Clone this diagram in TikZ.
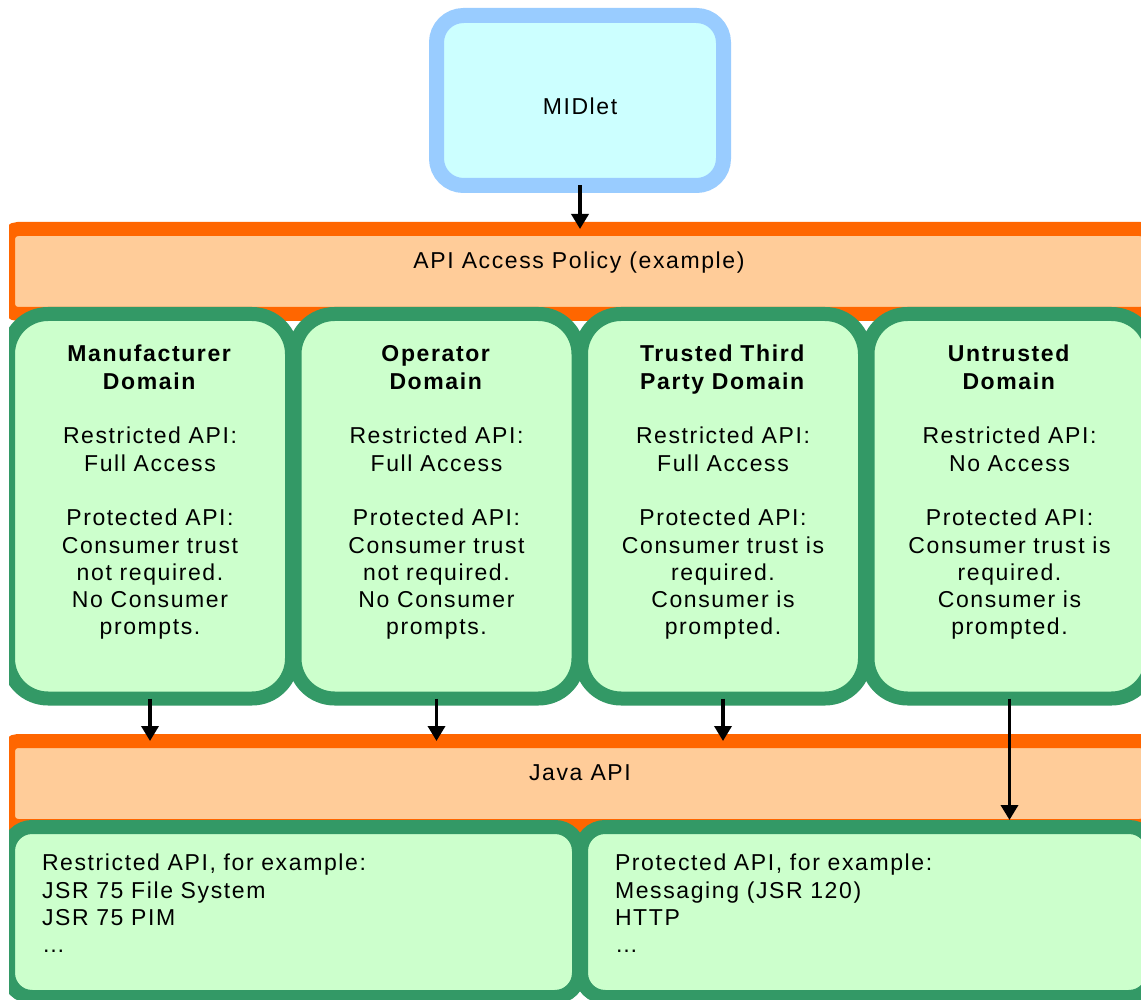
\documentclass[tikz,border=0pt]{standalone}
\usepackage{fontspec}
\setmainfont[LetterSpace=7]{Liberation Sans}
\usetikzlibrary{arrows.meta}
\definecolor{midborder}{HTML}{99CCFF}
\definecolor{midfill}{HTML}{CCFFFF}
\definecolor{orborder}{HTML}{FF6600}
\definecolor{orfill}{HTML}{FFCC99}
\definecolor{grborder}{HTML}{339966}
\definecolor{grfill}{HTML}{CCFFCC}
\begin{document}
\begin{tikzpicture}[x=1pt,y=-1pt,
  every node/.style={font=\fontsize{23}{27.3}\selectfont, inner sep=0pt, outer sep=0pt},
  box/.style={rectangle, inner sep=0pt, outer sep=0pt},
  midbox/.style={box, draw=midborder, fill=midfill, line width=15pt, rounded corners=27pt, minimum width=287pt, minimum height=170pt},
  bandbox/.style={box, draw=orborder, fill=orfill, line width=14pt, rounded corners=10pt, minimum width=1142pt, minimum height=85pt},
  dombox/.style={box, draw=grborder, fill=grfill, line width=14pt, rounded corners=40pt, minimum width=284pt, minimum height=384.5pt},
  lowbox/.style={box, draw=grborder, fill=grfill, line width=14pt, rounded corners=24pt, minimum height=170pt},
  domtext/.style={anchor=base, align=center, text width=280pt},
  lowtext/.style={anchor=base west, align=left, text width=520pt},
  arr/.style={line width=3.5pt, -{Triangle[width=17pt,length=15pt]}}
]
\useasboundingbox (0,0) rectangle (1141,1000);
\fill[white] (0,0) rectangle (1141,1000);
\clip (9,0) rectangle (1141,1000);

\node[midbox] (midlet) at (580,100.5) {};
\node[anchor=base] (midlettxt) at (580,115) {MIDlet};

\node[bandbox] (band1) at (579,271.5) {};
\node[anchor=base] (band1txt) at (579,268.3) {API Access Policy (example)};

\node[dombox] (dom1) at (150,506.25) {};
\node[dombox] (dom2) at (436.5,506.25) {};
\node[dombox] (dom3) at (723,506.25) {};
\node[dombox] (dom4) at (1009.5,506.25) {};

\node[domtext] (dom1txt) at (150,362) {\textbf{Manufacturer}\\\textbf{Domain}\\[27.3pt]Restricted API:\\Full Access\\[27.3pt]Protected API:\\Consumer trust\\not required.\\No Consumer\\prompts.};
\node[domtext] (dom2txt) at (436.5,362) {\textbf{Operator}\\\textbf{Domain}\\[27.3pt]Restricted API:\\Full Access\\[27.3pt]Protected API:\\Consumer trust\\not required.\\No Consumer\\prompts.};
\node[domtext] (dom3txt) at (723,362) {\textbf{Trusted Third}\\\textbf{Party Domain}\\[27.3pt]Restricted API:\\Full Access\\[27.3pt]Protected API:\\Consumer trust is\\required.\\Consumer is\\prompted.};
\node[domtext] (dom4txt) at (1009.5,362) {\textbf{Untrusted}\\\textbf{Domain}\\[27.3pt]Restricted API:\\No Access\\[27.3pt]Protected API:\\Consumer trust is\\required.\\Consumer is\\prompted.};

\node[bandbox] (band2) at (579,783.5) {};
\node[anchor=base] (band2txt) at (580,780.7) {Java API};

\node[lowbox, minimum width=571pt] (lowL) at (293.5,912) {};
\node[lowbox, minimum width=572pt] (lowR) at (867,912) {};
\node[lowtext] (lowLtxt) at (42,870.7) {Restricted API, for example:\\JSR 75 File System\\JSR 75 PIM\\…};
\node[lowtext] (lowRtxt) at (615,870.7) {Protected API, for example:\\Messaging (JSR 120)\\HTTP\\…};

\draw[arr] (midlet.south) -- (midlet.south |- band1.north);
\draw[arr] (dom1.south) -- (dom1.south |- band2.north);
\draw[arr] (dom2.south) -- (dom2.south |- band2.north);
\draw[arr] (dom3.south) -- (dom3.south |- band2.north);
\draw[arr, shorten >=7pt] (dom4.south) -- (dom4.south |- lowR.north);
\end{tikzpicture}
\end{document}
